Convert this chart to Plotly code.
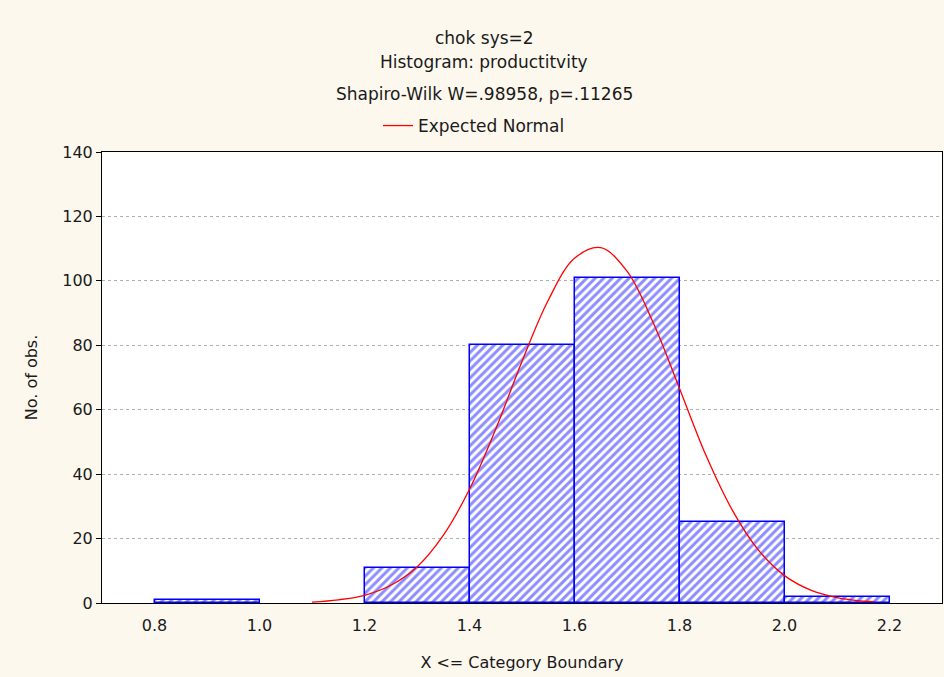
import plotly.graph_objects as go

# Histogram data
bin_centers = [0.9, 1.1, 1.3, 1.5, 1.7, 1.9, 2.1]
counts = [1, 0, 11, 80, 101, 25, 2]
bin_width = 0.2

# Expected normal curve
curve_x = [1.10, 1.15, 1.20, 1.25, 1.30, 1.35, 1.40, 1.45, 1.50, 1.55, 1.60, 1.65,
           1.70, 1.75, 1.80, 1.85, 1.90, 1.95, 2.00, 2.05, 2.10, 2.15, 2.17]
curve_y = [0.3, 1.0, 2.4, 5.5, 11.2, 21, 35.3, 54, 75, 94, 107, 110.3,
           103, 87, 66.6, 46, 29, 16.5, 8.5, 4.0, 1.7, 0.6, 0.4]

x_ticks = [0.8, 1.0, 1.2, 1.4, 1.6, 1.8, 2.0, 2.2]
x_tick_labels = ["0.8", "1.0", "1.2", "1.4", "1.6", "1.8", "2.0", "2.2"]
y_ticks = [0, 20, 40, 60, 80, 100, 120, 140]

FONT = "DejaVu Sans, Verdana, sans-serif"
TXT = "#1a1a1a"

# empty bins draw no outline
bar_x = [c for c, n in zip(bin_centers, counts) if n > 0]
bar_y = [n for n in counts if n > 0]

fig = go.Figure()
fig.add_trace(go.Bar(
    x=bar_x, y=bar_y, width=[bin_width] * len(bar_x),
    marker=dict(color="white", line=dict(color="#0000FF", width=1.5),
                pattern=dict(shape="/", fgcolor="#1a1aFF", bgcolor="white",
                             size=6, solidity=0.5)),
    showlegend=False, hoverinfo="skip"))
fig.add_trace(go.Scatter(
    x=curve_x, y=curve_y, mode="lines", name="Expected Normal",
    line=dict(color="#FF0000", width=1.3, shape="spline")))

plot_top, plot_bottom, plot_left, plot_w = 152, 603, 102, 840
H = plot_bottom - plot_top

def py(ypix):
    return (plot_bottom - ypix) / H

cx = (484 - plot_left) / plot_w
titles = [("chok sys=2", 38), ("Histogram: productitvity", 62), ("Shapiro-Wilk W=.98958, p=.11265", 94)]
for txt, yp in titles:
    fig.add_annotation(text=txt, x=cx, y=py(yp), xref="paper", yref="paper",
                       showarrow=False, font=dict(family=FONT, size=17, color=TXT),
                       xanchor="center", yanchor="middle")

fig.update_layout(
    width=944, height=677,
    paper_bgcolor="#FDF8EE", plot_bgcolor="white",
    margin=dict(l=plot_left, r=944 - plot_left - plot_w, t=plot_top, b=677 - plot_bottom,
                autoexpand=False),
    font=dict(family=FONT, size=16, color=TXT),
    bargap=0,
    legend=dict(x=(378 - plot_left) / plot_w, y=py(126), xanchor="left", yanchor="middle",
                bgcolor="rgba(0,0,0,0)", font=dict(family=FONT, size=17, color=TXT)),
    xaxis=dict(range=[0.7, 2.3], tickvals=x_ticks, ticktext=x_tick_labels,
               showgrid=False, zeroline=False, showline=True, linecolor="black",
               linewidth=1, mirror=True, ticks="", ticklabelstandoff=8,
               automargin=False, tickfont=dict(family=FONT, size=16, color=TXT),
               title=dict(text="X <= Category Boundary", standoff=22,
                          font=dict(family=FONT, size=16, color=TXT))),
    yaxis=dict(range=[0, 140], tickvals=y_ticks, showgrid=True, gridcolor="#B0B0B0",
               griddash="dot", gridwidth=1, zeroline=False, showline=True,
               linecolor="black", linewidth=1, mirror=True, ticks="outside",
               ticklen=5, tickcolor="black", automargin=False,
               tickfont=dict(family=FONT, size=16, color=TXT),
               title=dict(text="No. of obs.", standoff=20,
                          font=dict(family=FONT, size=16, color=TXT))),
)

fig.write_html("out.html")
